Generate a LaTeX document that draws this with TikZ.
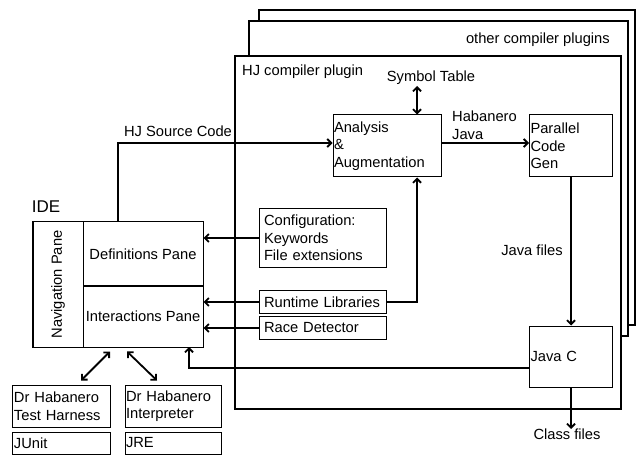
\documentclass[tikz,border=0pt]{standalone}
\usepackage{fontspec}
\setmainfont{Liberation Sans}
\usetikzlibrary{arrows.meta}
\tikzset{
  bx/.style n args={3}{draw, line width=1bp, minimum width=#1, minimum height=#2,
    inner xsep=#3, inner ysep=0bp, text width=#1-2*#3, align=left, anchor=center},
  bxc/.style n args={2}{draw, line width=1bp, minimum width=#1, minimum height=#2,
    inner sep=0bp, align=center, anchor=center},
  frame/.style n args={2}{draw, fill=white, line width=1.1bp, minimum width=#1, minimum height=#2, inner sep=0bp},
  lbl/.style={inner sep=0bp, align=left},
  arr/.style={line width=1.8bp, -{Straight Barb[length=4bp,width=8bp]}},
  darr/.style={line width=1.8bp, {Straight Barb[length=4bp,width=8bp]}-{Straight Barb[length=4bp,width=8bp]}}
}
\begin{document}
\begin{tikzpicture}[x=1bp,y=-1bp,font=\fontsize{14.7bp}{17.5bp}\selectfont]
\useasboundingbox (0,0) rectangle (637,463);
% plugin frames
\node[frame={376bp}{315bp}] (back) at (447,167.5) {};
\node[frame={379bp}{315bp}] (mid) at (438.5,178.5) {};
\node[frame={386bp}{353bp}] (front) at (428,232.5) {};
\node[lbl, anchor=east] (other) at (610,40) {other compiler plugins};
\node[lbl, anchor=west] (hjp) at (242,72) {HJ compiler plugin};
% compiler boxes
\node[bx={108bp}{62bp}{1bp}] (ana) at (387,146) {Analysis\\\&\\Augmentation};
\node[bx={83bp}{62bp}{1bp}] (pcg) at (571,146) {Parallel\\Code\\Gen};
\node[bx={83bp}{61bp}{1bp}] (jc) at (571,356.5) {Java C};
\node[bx={127bp}{59bp}{5bp}] (cfg) at (322.5,238) {Configuration:\\Keywords\\File extensions};
\node[bx={127bp}{22bp}{5bp}] (rt) at (322.5,302) {Runtime Libraries};
\node[bx={127bp}{23bp}{5bp}] (race) at (322.5,328) {Race Detector};
% labels
\node[lbl] (st) at (431,78) {Symbol Table};
\node[lbl, anchor=west] (hj) at (452,125) {Habanero\\Java};
\node[lbl] (jf) at (532,250) {Java files};
\node[lbl, anchor=north] (cf) at (567,429) {Class files};
\node[lbl, anchor=south] (src) at (178,137) {HJ Source Code};
% IDE
\node[lbl, font=\fontsize{17bp}{20bp}\selectfont] (idel) at (46,207) {IDE};
\node[bxc={170bp}{125bp}] (ide) at (118,284.5) {};
\node[bxc={50bp}{125bp}] (nav) at (58,284.5) {\rotatebox{90}{Navigation Pane}};
\node[bxc={120bp}{64bp}] (def) at (143,254) {Definitions Pane};
\node[bxc={120bp}{61bp}] (inter) at (143,316.5) {Interactions Pane};
% bottom boxes
\node[bx={97bp}{42bp}{1bp}] (th) at (61.5,406) {Dr Habanero\\Test Harness};
\node[bx={97bp}{22bp}{1bp}] (ju) at (61.5,443) {JUnit};
\node[bx={96bp}{42bp}{1bp}] (ip) at (173,406) {Dr Habanero\\Interpreter};
\node[bx={96bp}{22bp}{1bp}] (jre) at (173,443) {JRE};
% connectors
\coordinate (stc) at (417,86);
\coordinate (jcin) at (189,347);
\draw[arr] (ide.north) |- ([yshift=3bp]ana.west);
\draw[arr] ([yshift=3bp]ana.east) -- ([yshift=3bp]pcg.west);
\draw[darr] (stc) -- (stc |- ana.north);
\draw[arr] (rt.east) -| (stc |- ana.south);
\draw[arr] (cfg.west) -- (cfg.west -| ide.east);
\draw[arr] (rt.west) -- (rt.west -| ide.east);
\draw[arr] (race.west) -- (race.west -| ide.east);
\draw[arr] ([yshift=-11.5bp]jc.west) -| (jcin);
\draw[arr] (pcg.south) -- (jc.north);
\draw[arr] (jc.south) -- (jc.south |- cf.north);
\draw[darr] ([xshift=-8bp,yshift=-4bp]ide.south) -- ([xshift=19.5bp,yshift=4bp]th.north);
\draw[darr] ([xshift=9bp,yshift=-4bp]ide.south) -- ([xshift=-16bp,yshift=4bp]ip.north);
\end{tikzpicture}
\end{document}
